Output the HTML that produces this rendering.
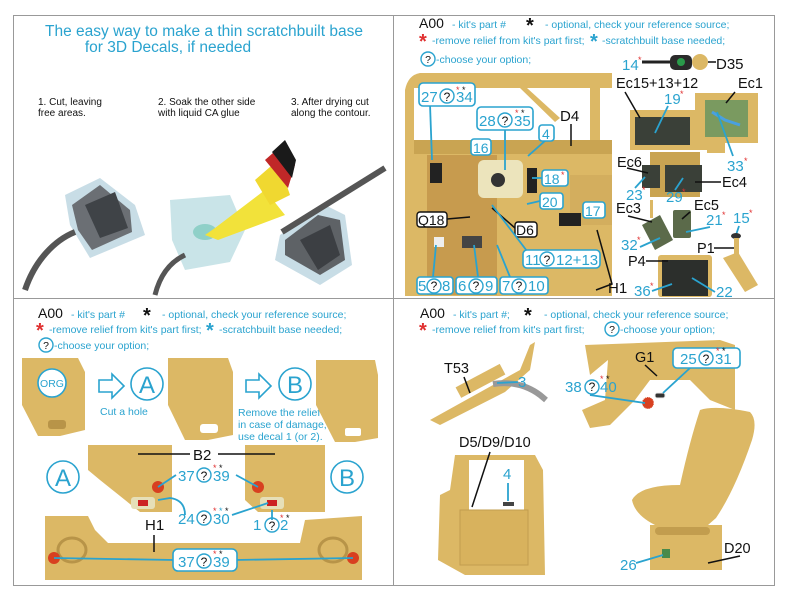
<!DOCTYPE html>
<html><head><meta charset="utf-8"><style>
html,body{margin:0;padding:0;background:#fff;width:787px;height:600px;overflow:hidden}
svg{display:block}
text{font-family:"Liberation Sans",sans-serif}
.b{fill:#2aa3cf}.k{fill:#111}.r{fill:#e03030}
.lb{fill:#fff;stroke:#2aa3cf;stroke-width:1.6}
.ln{stroke:#2aa3cf;stroke-width:1.8;fill:none}
.lk{stroke:#111;stroke-width:1.5;fill:none}
.tan{fill:#dcb865}.tan2{fill:#c9a452}.dk{fill:#3a4038}
</style></head><body>
<svg width="787" height="600" viewBox="0 0 787 600">
<!-- frame -->
<rect x="13.5" y="15.5" width="761" height="570" fill="none" stroke="#999" stroke-width="1"/>
<line x1="393.5" y1="15" x2="393.5" y2="585" stroke="#999"/>
<line x1="13" y1="298.5" x2="775" y2="298.5" stroke="#999"/>

<!-- TOP LEFT -->
<text x="204" y="36" font-size="15.5" class="b" text-anchor="middle">The easy way to make a thin scratchbuilt base</text>
<text x="168" y="52" font-size="15.5" class="b" text-anchor="middle">for 3D Decals, if needed</text>
<text x="38" y="105" font-size="10" class="k">1. Cut, leaving</text>
<text x="38" y="116" font-size="10" class="k">free areas.</text>
<text x="158" y="105" font-size="10" class="k">2. Soak the other side</text>
<text x="158" y="116" font-size="10" class="k">with liquid CA glue</text>
<text x="291" y="105" font-size="10" class="k">3. After drying cut</text>
<text x="291" y="116" font-size="10" class="k">along the contour.</text>
<!-- decal 1 -->
<polygon points="65,195 100,178 135,205 145,235 90,258 70,225" fill="#c8dde6"/>
<polygon points="72,205 100,185 130,210 132,232 92,250 78,230" fill="#6b6f74"/>
<polygon points="85,205 115,192 128,228 100,238" fill="#3f4347"/>
<path d="M25,290 C35,260 55,240 75,232" stroke="#555" stroke-width="6" fill="none"/>
<!-- decal 2 -->
<polygon points="170,200 230,195 245,230 230,262 185,270 172,240" fill="#c9e4e8"/>
<ellipse cx="205" cy="232" rx="12" ry="8" fill="#8fd0c8"/>
<polygon points="205,235 215,228 265,190 285,215 218,240" fill="#f2e23a"/>
<polygon points="255,180 278,160 290,195 270,205" fill="#f0d830"/>
<polygon points="265,160 282,145 295,165 288,188" fill="#c02828"/>
<polygon points="272,152 285,140 296,160 292,178" fill="#1a1a1a"/>
<path d="M155,295 C160,275 170,262 185,255" stroke="#555" stroke-width="5" fill="none"/>
<!-- decal 3 -->
<polygon points="280,235 325,205 345,215 352,265 320,285 275,260" fill="#c8dde6"/>
<polygon points="285,240 318,215 340,220 345,260 320,275 285,255" fill="#5e6266"/>
<polygon points="300,240 330,225 340,255 318,270" fill="#3c3f43"/>
<path d="M282,232 L385,168" stroke="#555" stroke-width="6"/>

<!-- TOP RIGHT -->
<text x="419" y="28" font-size="14" class="k">A00</text>
<text x="452" y="28" font-size="10.5" class="b">- kit's part #</text>
<text x="526" y="32" font-size="20" class="k" font-weight="bold">*</text>
<text x="545" y="28" font-size="10.5" class="b">- optional, check your reference source;</text>
<text x="419" y="48" font-size="20" class="r" font-weight="bold">*</text>
<text x="432" y="44" font-size="10.5" class="b">-remove relief from kit's part first;</text>
<text x="590" y="48" font-size="20" class="b" font-weight="bold">*</text>
<text x="602" y="44" font-size="10.5" class="b">-scratchbuilt base needed;</text>
<circle cx="428" cy="59" r="7" fill="none" stroke="#2aa3cf" stroke-width="1.4"/>
<text x="428" y="63" font-size="10.5" class="k" text-anchor="middle">?</text>
<text x="436" y="63" font-size="10.5" class="b">-choose your option;</text>
<!-- cockpit -->
<path d="M405,90 Q408,75 420,73 L612,73 L612,296 L405,296 Z" class="tan"/>
<rect x="414" y="88" width="198" height="55" fill="#fff"/>
<rect x="590" y="80" width="10" height="70" class="tan"/>
<polygon points="520,88 527,88 560,118 555,122" class="tan"/>
<rect x="414" y="140" width="198" height="14" class="tan2"/>
<rect x="427" y="155" width="70" height="140" fill="#c79b4e"/>
<rect x="570" y="175" width="42" height="50" fill="#d3ae5e"/>
<rect x="478" y="160" width="45" height="38" rx="6" fill="#ece4bc"/>
<circle cx="498" cy="180" r="7" fill="#333"/>
<rect x="430" y="163" width="12" height="20" fill="#222"/>
<rect x="527" y="168" width="10" height="25" fill="#222"/>
<rect x="559" y="213" width="22" height="13" fill="#222"/>
<rect x="462" y="236" width="20" height="12" fill="#444"/>
<rect x="434" y="237" width="10" height="10" fill="#eee"/>
<!-- labels -->
<line class="ln" x1="430" y1="104" x2="432" y2="160"/>
<rect class="lb" x="419" y="83" width="56" height="23" rx="4"/>
<text x="421" y="102" font-size="15" class="b">27</text><circle cx="447" cy="96" r="7" fill="none" stroke="#2aa3cf" stroke-width="1.4"/><text x="447" y="101" font-size="12" class="k" text-anchor="middle">?</text><text x="456" y="102" font-size="15" class="b">34</text>
<text x="456" y="93" font-size="9" class="r">*</text><text x="462" y="93" font-size="9" class="k">*</text>
<line class="ln" x1="505" y1="128" x2="505" y2="170"/>
<rect class="lb" x="477" y="107" width="56" height="23" rx="4"/>
<text x="479" y="126" font-size="15" class="b">28</text><circle cx="505" cy="120" r="7" fill="none" stroke="#2aa3cf" stroke-width="1.4"/><text x="505" y="125" font-size="12" class="k" text-anchor="middle">?</text><text x="514" y="126" font-size="15" class="b">35</text>
<text x="515" y="116" font-size="9" class="r">*</text><text x="521" y="116" font-size="9" class="k">*</text>
<line class="ln" x1="546" y1="140" x2="528" y2="156"/>
<rect class="lb" x="539" y="125" width="15" height="16" rx="3"/><text x="542" y="139" font-size="14" class="b">4</text>
<rect class="lb" x="471" y="139" width="20" height="16" rx="3"/><text x="473" y="153" font-size="14" class="b">16</text>
<text x="560" y="121" font-size="15" class="k">D4</text><line class="lk" x1="571" y1="124" x2="571" y2="146"/>
<line class="ln" x1="542" y1="178" x2="532" y2="178"/>
<rect class="lb" x="542" y="170" width="26" height="16" rx="3"/><text x="544" y="184" font-size="14" class="b">18</text><text x="561" y="178" font-size="9" class="r">*</text>
<line class="ln" x1="540" y1="201" x2="527" y2="204"/>
<rect class="lb" x="540" y="193" width="23" height="16" rx="3"/><text x="542" y="207" font-size="14" class="b">20</text>
<rect class="lb" x="583" y="202" width="22" height="16" rx="3"/><text x="585" y="216" font-size="14" class="b">17</text>
<rect x="417" y="212" width="30" height="15" rx="3" fill="#fff" stroke="#111" stroke-width="1.4"/><text x="418" y="225" font-size="14" class="k">Q18</text>
<line class="lk" x1="447" y1="219" x2="470" y2="217"/>
<rect x="515" y="222" width="22" height="15" rx="3" fill="#fff" stroke="#111" stroke-width="1.4"/><text x="516" y="235" font-size="14" class="k">D6</text>
<line class="lk" x1="515" y1="228" x2="492" y2="208"/>
<line class="ln" x1="530" y1="255" x2="492" y2="205"/>
<rect class="lb" x="523" y="250" width="77" height="18" rx="4"/>
<text x="525" y="265" font-size="15" class="b">11</text><circle cx="547" cy="259" r="7" fill="none" stroke="#2aa3cf" stroke-width="1.4"/><text x="547" y="264" font-size="12" class="k" text-anchor="middle">?</text><text x="556" y="265" font-size="15" class="b">12+13</text>
<line class="ln" x1="433" y1="277" x2="436" y2="245"/><line class="ln" x1="478" y1="277" x2="474" y2="245"/><line class="ln" x1="510" y1="277" x2="497" y2="245"/>
<rect class="lb" x="417" y="277" width="36" height="17" rx="3"/><text x="418" y="291" font-size="15" class="b">5</text><circle cx="434" cy="286" r="7" fill="none" stroke="#2aa3cf" stroke-width="1.4"/><text x="434" y="290" font-size="12" class="k" text-anchor="middle">?</text><text x="442" y="291" font-size="15" class="b">8</text>
<rect class="lb" x="456" y="277" width="41" height="17" rx="3"/><text x="458" y="291" font-size="15" class="b">6</text><circle cx="476" cy="286" r="7" fill="none" stroke="#2aa3cf" stroke-width="1.4"/><text x="476" y="290" font-size="12" class="k" text-anchor="middle">?</text><text x="485" y="291" font-size="15" class="b">9</text>
<rect class="lb" x="500" y="277" width="48" height="17" rx="3"/><text x="502" y="291" font-size="15" class="b">7</text><circle cx="519" cy="286" r="7" fill="none" stroke="#2aa3cf" stroke-width="1.4"/><text x="519" y="290" font-size="12" class="k" text-anchor="middle">?</text><text x="528" y="291" font-size="15" class="b">10</text>
<polyline class="lk" points="597,230 612,284 596,290"/>
<text x="608" y="293" font-size="15" class="k">H1</text>
<!-- right parts -->
<text x="622" y="70" font-size="15" class="b">14</text><text x="638" y="63" font-size="9" class="r">*</text>
<line x1="642" y1="62" x2="680" y2="62" stroke="#222" stroke-width="3"/>
<rect x="670" y="55" width="22" height="15" rx="5" fill="#2a2a2a"/><circle cx="681" cy="62" r="4" fill="#2a9a4a"/>
<circle cx="700" cy="62" r="8" class="tan"/><line class="lk" x1="708" y1="62" x2="716" y2="62"/>
<text x="716" y="69" font-size="15" class="k">D35</text>
<text x="616" y="88" font-size="14.5" class="k">Ec15+13+12</text>
<text x="738" y="88" font-size="14.5" class="k">Ec1</text>
<rect x="630" y="110" width="80" height="40" class="tan"/>
<rect x="635" y="117" width="55" height="28" class="dk"/>
<rect x="695" y="93" width="63" height="50" class="tan"/>
<rect x="705" y="100" width="43" height="37" fill="#7a9a60"/>
<path d="M712,112 L725,120 L740,125" stroke="#4aa0e0" stroke-width="3" fill="none"/>
<rect x="707" y="143" width="18" height="10" class="tan"/>
<text x="664" y="104" font-size="15" class="b">19</text><text x="680" y="97" font-size="9" class="r">*</text>
<line class="lk" x1="625" y1="92" x2="640" y2="118"/><line class="ln" x1="668" y1="106" x2="655" y2="133"/>
<line class="lk" x1="735" y1="92" x2="726" y2="103"/><line class="ln" x1="717" y1="112" x2="733" y2="156"/>
<text x="727" y="171" font-size="15" class="b">33</text><text x="744" y="164" font-size="9" class="r">*</text>
<rect x="650" y="152" width="50" height="45" class="tan2"/>
<rect x="642" y="165" width="18" height="23" class="dk"/>
<rect x="665" y="165" width="37" height="27" class="dk"/>
<text x="617" y="167" font-size="14.5" class="k">Ec6</text>
<line class="lk" x1="627" y1="168" x2="648" y2="173"/>
<text x="722" y="187" font-size="14.5" class="k">Ec4</text><line class="lk" x1="695" y1="182" x2="721" y2="182"/>
<text x="626" y="200" font-size="15" class="b">23</text><text x="642" y="193" font-size="9" class="r">*</text>
<line class="ln" x1="635" y1="188" x2="645" y2="177"/>
<text x="666" y="202" font-size="15" class="b">29</text><text x="682" y="195" font-size="9" class="r">*</text>
<line class="ln" x1="675" y1="190" x2="683" y2="178"/>
<text x="616" y="213" font-size="14.5" class="k">Ec3</text>
<text x="694" y="210" font-size="14.5" class="k">Ec5</text>
<polygon points="642,225 660,215 673,240 655,250" fill="#5b6a4a"/>
<rect x="650" y="200" width="3" height="18" class="tan"/>
<rect x="673" y="210" width="18" height="28" rx="2" fill="#5b6a4a"/>
<line class="lk" x1="628" y1="216" x2="652" y2="222"/><line class="lk" x1="690" y1="212" x2="682" y2="219"/>
<text x="706" y="225" font-size="15" class="b">21</text><text x="722" y="218" font-size="9" class="r">*</text>
<line class="ln" x1="710" y1="227" x2="686" y2="232"/>
<text x="733" y="223" font-size="15" class="b">15</text><text x="749" y="216" font-size="9" class="r">*</text>
<line class="ln" x1="739" y1="226" x2="736" y2="235"/>
<text x="621" y="250" font-size="15" class="b">32</text><text x="637" y="243" font-size="9" class="r">*</text>
<line class="ln" x1="640" y1="247" x2="660" y2="238"/>
<ellipse cx="736" cy="236" rx="5" ry="3" fill="#333"/>
<rect x="734" y="238" width="5" height="20" class="tan"/>
<polygon points="723,258 738,252 758,285 745,292" class="tan"/>
<text x="697" y="253" font-size="14.5" class="k">P1</text><line class="lk" x1="714" y1="248" x2="734" y2="248"/>
<rect x="658" y="255" width="54" height="42" rx="3" class="tan"/>
<rect x="662" y="260" width="46" height="36" fill="#2c2f2c"/>
<text x="628" y="266" font-size="14.5" class="k">P4</text><line class="lk" x1="646" y1="261" x2="668" y2="261"/>
<text x="634" y="296" font-size="15" class="b">36</text><text x="650" y="289" font-size="9" class="r">*</text>
<line class="ln" x1="652" y1="291" x2="672" y2="284"/>
<text x="716" y="297" font-size="15" class="b">22</text><line class="ln" x1="715" y1="292" x2="692" y2="278"/>

<!-- BOTTOM LEFT -->
<text x="38" y="318" font-size="14" class="k">A00</text>
<text x="71" y="318" font-size="10.5" class="b">- kit's part #</text>
<text x="143" y="322" font-size="20" class="k" font-weight="bold">*</text>
<text x="162" y="318" font-size="10.5" class="b">- optional, check your reference source;</text>
<text x="36" y="337" font-size="20" class="r" font-weight="bold">*</text>
<text x="49" y="333" font-size="10.5" class="b">-remove relief from kit's part first;</text>
<text x="206" y="337" font-size="20" class="b" font-weight="bold">*</text>
<text x="219" y="333" font-size="10.5" class="b">-scratchbuilt base needed;</text>
<circle cx="46" cy="345" r="7" fill="none" stroke="#2aa3cf" stroke-width="1.4"/>
<text x="46" y="349" font-size="10.5" class="k" text-anchor="middle">?</text>
<text x="54" y="349" font-size="10.5" class="b">-choose your option;</text>
<!-- row parts -->
<path d="M22,358 L78,358 L85,372 L85,430 L60,436 L38,436 L22,405 Z" class="tan"/>
<rect x="48" y="420" width="18" height="9" rx="3" fill="#b89448"/>
<circle cx="52" cy="383" r="14" fill="#fff" stroke="#2aa3cf" stroke-width="1.6"/>
<text x="52" y="387" font-size="10.5" class="b" text-anchor="middle">ORG</text>
<path d="M99,380 L112,380 L112,374 L124,386 L112,398 L112,392 L99,392 Z" fill="#fff" stroke="#2aa3cf" stroke-width="1.6"/>
<circle cx="147" cy="384" r="16" fill="#fff" stroke="#2aa3cf" stroke-width="1.6"/>
<text x="147" y="393" font-size="24" class="b" text-anchor="middle">A</text>
<text x="100" y="415" font-size="10.5" class="b">Cut a hole</text>
<path d="M168,358 L228,358 L233,372 L233,435 L208,440 L185,440 L168,405 Z" class="tan"/>
<rect x="200" y="424" width="18" height="9" rx="3" fill="#fff"/>
<path d="M246,380 L259,380 L259,374 L271,386 L259,398 L259,392 L246,392 Z" fill="#fff" stroke="#2aa3cf" stroke-width="1.6"/>
<circle cx="295" cy="384" r="16" fill="#fff" stroke="#2aa3cf" stroke-width="1.6"/>
<text x="295" y="393" font-size="24" class="b" text-anchor="middle">B</text>
<text x="238" y="416" font-size="10.5" class="b">Remove the relief</text>
<text x="238" y="428" font-size="10.5" class="b">in case of damage,</text>
<text x="238" y="440" font-size="10.5" class="b">use decal 1 (or 2).</text>
<path d="M316,360 L375,360 L378,375 L378,438 L355,442 L335,442 L316,405 Z" class="tan"/>
<rect x="345" y="428" width="16" height="8" rx="2" fill="#fff"/>
<!-- B2 panels -->
<path d="M88,445 L172,445 L172,512 L140,512 L100,480 L88,470 Z" class="tan"/>
<path d="M245,445 L325,445 L325,512 L258,512 L245,500 Z" class="tan"/>
<rect x="131" y="497" width="24" height="12" rx="3" fill="#e6dfb8"/><rect x="138" y="500" width="10" height="6" fill="#c22"/>
<rect x="260" y="497" width="24" height="12" rx="3" fill="#e6dfb8"/><rect x="267" y="500" width="10" height="6" fill="#c22"/>
<circle cx="158" cy="487" r="6" fill="#d84020"/><circle cx="258" cy="487" r="6" fill="#d84020"/>
<line class="lk" x1="138" y1="454" x2="190" y2="454"/><line class="lk" x1="218" y1="454" x2="275" y2="454"/>
<text x="193" y="460" font-size="15" class="k">B2</text>
<circle cx="63" cy="477" r="16" fill="#fff" stroke="#2aa3cf" stroke-width="1.6"/>
<text x="63" y="486" font-size="24" class="b" text-anchor="middle">A</text>
<circle cx="347" cy="477" r="16" fill="#fff" stroke="#2aa3cf" stroke-width="1.6"/>
<text x="347" y="486" font-size="24" class="b" text-anchor="middle">B</text>
<line class="ln" x1="176" y1="475" x2="158" y2="487"/><line class="ln" x1="236" y1="475" x2="258" y2="487"/>
<text x="178" y="481" font-size="15" class="b">37</text><circle cx="204" cy="475" r="7" fill="none" stroke="#2aa3cf" stroke-width="1.4"/><text x="204" y="480" font-size="12" class="k" text-anchor="middle">?</text><text x="213" y="481" font-size="15" class="b">39</text>
<text x="213" y="471" font-size="9" class="r">*</text><text x="219" y="471" font-size="9" class="k">*</text>
<path class="ln" d="M158,500 L170,498 Q185,500 185,515"/>
<line class="ln" x1="232" y1="515" x2="268" y2="503"/>
<text x="178" y="524" font-size="15" class="b">24</text><circle cx="204" cy="518" r="7" fill="none" stroke="#2aa3cf" stroke-width="1.4"/><text x="204" y="523" font-size="12" class="k" text-anchor="middle">?</text><text x="213" y="524" font-size="15" class="b">30</text>
<text x="213" y="514" font-size="9" class="r">*</text><text x="219" y="514" font-size="9" class="b">*</text><text x="225" y="514" font-size="9" class="k">*</text>
<line class="ln" x1="272" y1="510" x2="272" y2="520"/>
<text x="253" y="530" font-size="15" class="b">1</text><circle cx="272" cy="525" r="7" fill="none" stroke="#2aa3cf" stroke-width="1.4"/><text x="272" y="530" font-size="12" class="k" text-anchor="middle">?</text><text x="280" y="530" font-size="15" class="b">2</text>
<text x="280" y="521" font-size="9" class="r">*</text><text x="286" y="521" font-size="9" class="k">*</text>
<!-- H1 -->
<path d="M45,516 L88,516 L95,530 L108,543 L300,543 L305,520 L362,516 L362,580 L45,580 Z" class="tan"/>
<ellipse cx="72" cy="550" rx="14" ry="12" fill="none" stroke="#b89448" stroke-width="3"/>
<ellipse cx="333" cy="550" rx="14" ry="12" fill="none" stroke="#b89448" stroke-width="3"/>
<circle cx="54" cy="558" r="6" fill="#d84020"/><circle cx="353" cy="558" r="6" fill="#d84020"/>
<text x="145" y="530" font-size="15" class="k">H1</text><line class="lk" x1="154" y1="535" x2="154" y2="552"/>
<line class="ln" x1="54" y1="558" x2="175" y2="560"/><line class="ln" x1="353" y1="558" x2="235" y2="560"/>
<rect class="lb" x="173" y="549" width="64" height="22" rx="5"/>
<text x="178" y="567" font-size="15" class="b">37</text><circle cx="204" cy="561" r="7" fill="none" stroke="#2aa3cf" stroke-width="1.4"/><text x="204" y="566" font-size="12" class="k" text-anchor="middle">?</text><text x="213" y="567" font-size="15" class="b">39</text>
<text x="213" y="557" font-size="9" class="r">*</text><text x="219" y="557" font-size="9" class="k">*</text>

<!-- BOTTOM RIGHT -->
<text x="420" y="318" font-size="14" class="k">A00</text>
<text x="453" y="318" font-size="10.5" class="b">- kit's part #;</text>
<text x="524" y="322" font-size="20" class="k" font-weight="bold">*</text>
<text x="544" y="318" font-size="10.5" class="b">- optional, check your reference source;</text>
<text x="419" y="337" font-size="20" class="r" font-weight="bold">*</text>
<text x="432" y="333" font-size="10.5" class="b">-remove relief from kit's part first;</text>
<circle cx="612" cy="329" r="7" fill="none" stroke="#2aa3cf" stroke-width="1.4"/>
<text x="612" y="333" font-size="10.5" class="k" text-anchor="middle">?</text>
<text x="620" y="333" font-size="10.5" class="b">-choose your option;</text>
<!-- gun -->
<polygon points="430,420 520,370 530,345 535,342 530,370 505,392 440,425" class="tan"/>
<rect x="455" y="375" width="50" height="12" class="tan" transform="rotate(-28 480 380)"/>
<path d="M493,384 Q520,380 540,395 L546,400" stroke="#999" stroke-width="6" fill="none"/>
<text x="444" y="373" font-size="14.5" class="k">T53</text><line class="lk" x1="464" y1="377" x2="470" y2="393"/>
<text x="518" y="387" font-size="15" class="b">3</text><line class="ln" x1="497" y1="383" x2="518" y2="382"/>
<!-- G1 -->
<path d="M585,345 L720,340 L735,345 L735,410 L710,400 L690,380 L650,380 L635,400 L610,425 L590,428 L582,410 L605,400 L608,360 L590,375 Z" class="tan"/>
<polygon points="600,345 720,345 720,352 600,352" class="tan"/>
<circle cx="648" cy="403" r="6" fill="#d84020" stroke="#fff" stroke-dasharray="1 1"/>
<rect x="655" y="393" width="10" height="5" rx="2" fill="#333" stroke="#eee"/>
<text x="635" y="362" font-size="14.5" class="k">G1</text><line class="lk" x1="645" y1="365" x2="657" y2="376"/>
<rect class="lb" x="673" y="348" width="67" height="20" rx="4"/>
<text x="680" y="364" font-size="15" class="b">25</text><circle cx="706" cy="358" r="7" fill="none" stroke="#2aa3cf" stroke-width="1.4"/><text x="706" y="363" font-size="12" class="k" text-anchor="middle">?</text><text x="715" y="364" font-size="15" class="b">31</text>
<text x="716" y="354" font-size="9" class="r">*</text><text x="722" y="354" font-size="9" class="k">*</text>
<line class="ln" x1="690" y1="368" x2="663" y2="393"/>
<text x="565" y="392" font-size="15" class="b">38</text><circle cx="592" cy="387" r="7" fill="none" stroke="#2aa3cf" stroke-width="1.4"/><text x="592" y="391" font-size="12" class="k" text-anchor="middle">?</text><text x="600" y="392" font-size="15" class="b">40</text>
<text x="600" y="382" font-size="9" class="r">*</text><text x="606" y="382" font-size="9" class="k">*</text>
<line class="ln" x1="590" y1="395" x2="645" y2="403"/>
<!-- door -->
<path d="M455,455 L535,455 L543,470 L545,575 L465,575 L438,560 L440,495 L450,490 Z" class="tan"/>
<rect x="469" y="460" width="55" height="50" fill="#fff"/>
<rect x="460" y="510" width="68" height="55" fill="#d8b25d" stroke="#c29d4e"/>
<rect x="503" y="502" width="11" height="4" fill="#444"/>
<text x="459" y="447" font-size="14.5" class="k">D5/D9/D10</text><line class="lk" x1="490" y1="452" x2="472" y2="507"/>
<text x="503" y="479" font-size="15" class="b">4</text><line class="ln" x1="508" y1="483" x2="508" y2="501"/>
<!-- seat -->
<path d="M700,410 Q715,405 750,412 Q758,420 752,440 Q735,490 716,518 L708,525 L655,525 Q635,515 632,500 Q640,485 680,485 Q690,440 700,410 Z" class="tan"/>
<rect x="650" y="525" width="72" height="45" class="tan"/>
<rect x="655" y="527" width="55" height="8" rx="4" fill="#c29d4e"/>
<rect x="662" y="549" width="8" height="9" fill="#4a8a4a"/>
<text x="620" y="570" font-size="15" class="b">26</text><line class="ln" x1="636" y1="563" x2="663" y2="555"/>
<text x="724" y="553" font-size="14.5" class="k">D20</text><line class="lk" x1="740" y1="556" x2="708" y2="563"/>
</svg>
</body></html>
